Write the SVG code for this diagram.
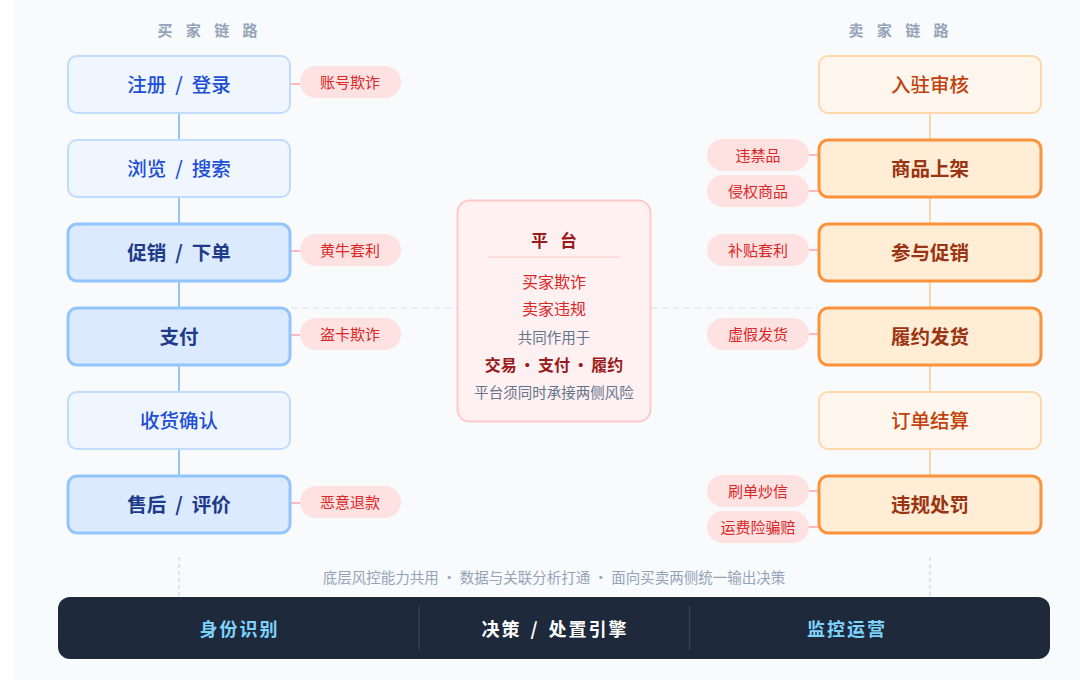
<svg xmlns="http://www.w3.org/2000/svg" width="1080" height="689" viewBox="0 0 1080 689">
<style>
text{font-family:"Noto Sans CJK SC","Noto Sans",sans-serif;text-anchor:middle;dominant-baseline:central}
.hdr{font-size:15px;font-weight:700;fill:#94a3b8;letter-spacing:5px}
.bl{fill:#eff6ff;stroke:#bfdbfe;stroke-width:2}
.bb{fill:#dbeafe;stroke:#93c5fd;stroke-width:3}
.blt{font-size:19.5px;fill:#1d4ed8;font-weight:500;word-spacing:4.5px}
.bbt{font-size:19.5px;fill:#1e3a8a;font-weight:700;word-spacing:4.5px}
.ol{fill:#fff7ed;stroke:#fed7aa;stroke-width:2}
.ob{fill:#ffedd5;stroke:#fb923c;stroke-width:3}
.olt{font-size:19.5px;fill:#c2410c;font-weight:500}
.obt{font-size:19.5px;fill:#9a3412;font-weight:700}
.pill{fill:#fee2e2}
.pt{font-size:15px;fill:#dc2626}
.vb{stroke:#93c5fd;stroke-width:2;fill:none}
.vo{stroke:#fed7aa;stroke-width:2;fill:none}
.pc{stroke:#fca5a5;stroke-width:1.5;fill:none}
.dh{stroke:#e2e8f0;stroke-width:1.5;stroke-dasharray:6 5;fill:none}
.dv{stroke:#cbd5e1;stroke-width:1.2;stroke-dasharray:4 3;fill:none}
.bt{font-size:18px;font-weight:700;letter-spacing:2px;word-spacing:3px}
</style>
<rect x="0" y="0" width="1080" height="689" fill="#ffffff"/>
<rect x="14" y="0" width="1066" height="680" fill="#f8fafc"/>
<text class="hdr" x="210" y="29">买 家 链 路</text>
<text class="hdr" x="901" y="29">卖 家 链 路</text>
<g id="connectors">
<line class="vb" x1="179" y1="113" x2="179" y2="140"/>
<line class="vb" x1="179" y1="197" x2="179" y2="224"/>
<line class="vb" x1="179" y1="281" x2="179" y2="308"/>
<line class="vb" x1="179" y1="365" x2="179" y2="392"/>
<line class="vb" x1="179" y1="449" x2="179" y2="476"/>
<line class="vo" x1="930" y1="113" x2="930" y2="140"/>
<line class="vo" x1="930" y1="197" x2="930" y2="224"/>
<line class="vo" x1="930" y1="281" x2="930" y2="308"/>
<line class="vo" x1="930" y1="365" x2="930" y2="392"/>
<line class="vo" x1="930" y1="449" x2="930" y2="476"/>
<line class="pc" x1="290" y1="84" x2="300" y2="84"/>
<line class="pc" x1="290" y1="251" x2="300" y2="251"/>
<line class="pc" x1="290" y1="335" x2="300" y2="335"/>
<line class="pc" x1="290" y1="503" x2="300" y2="503"/>
<line class="pc" x1="809" y1="155" x2="819" y2="155"/>
<line class="pc" x1="809" y1="191" x2="819" y2="191"/>
<line class="pc" x1="809" y1="250" x2="819" y2="250"/>
<line class="pc" x1="809" y1="334" x2="819" y2="334"/>
<line class="pc" x1="809" y1="491" x2="819" y2="491"/>
<line class="pc" x1="809" y1="527" x2="819" y2="527"/>
<line class="dh" x1="291" y1="308" x2="457" y2="308"/>
<line class="dh" x1="651" y1="308" x2="818" y2="308"/>
<line class="dv" x1="179" y1="557" x2="179" y2="597"/>
<line class="dv" x1="930" y1="557" x2="930" y2="597"/>
</g>
<g id="b1"><rect class="bl" x="68" y="56" width="222" height="57" rx="9"/><text class="blt" x="179" y="83">注册 / 登录</text></g>
<g id="b2"><rect class="bl" x="68" y="140" width="222" height="57" rx="9"/><text class="blt" x="179" y="167">浏览 / 搜索</text></g>
<g id="b3"><rect class="bb" x="68" y="224" width="222" height="57" rx="9"/><text class="bbt" x="179" y="251">促销 / 下单</text></g>
<g id="b4"><rect class="bb" x="68" y="308" width="222" height="57" rx="9"/><text class="bbt" x="179" y="335">支付</text></g>
<g id="b5"><rect class="bl" x="68" y="392" width="222" height="57" rx="9"/><text class="blt" x="179" y="419">收货确认</text></g>
<g id="b6"><rect class="bb" x="68" y="476" width="222" height="57" rx="9"/><text class="bbt" x="179" y="503">售后 / 评价</text></g>
<g id="s1"><rect class="ol" x="819" y="56" width="222" height="57" rx="9"/><text class="olt" x="930" y="83">入驻审核</text></g>
<g id="s2"><rect class="ob" x="819" y="140" width="222" height="57" rx="9"/><text class="obt" x="930" y="167">商品上架</text></g>
<g id="s3"><rect class="ob" x="819" y="224" width="222" height="57" rx="9"/><text class="obt" x="930" y="251">参与促销</text></g>
<g id="s4"><rect class="ob" x="819" y="308" width="222" height="57" rx="9"/><text class="obt" x="930" y="335">履约发货</text></g>
<g id="s5"><rect class="ol" x="819" y="392" width="222" height="57" rx="9"/><text class="olt" x="930" y="419">订单结算</text></g>
<g id="s6"><rect class="ob" x="819" y="476" width="222" height="57" rx="9"/><text class="obt" x="930" y="503">违规处罚</text></g>
<g id="r1"><rect class="pill" x="300" y="66" width="101" height="32" rx="16"/><text class="pt" x="350" y="81">账号欺诈</text></g>
<g id="r2"><rect class="pill" x="300" y="234" width="101" height="32" rx="16"/><text class="pt" x="350" y="249">黄牛套利</text></g>
<g id="r3"><rect class="pill" x="300" y="318" width="101" height="32" rx="16"/><text class="pt" x="350" y="333">盗卡欺诈</text></g>
<g id="r4"><rect class="pill" x="300" y="486" width="101" height="32" rx="16"/><text class="pt" x="350" y="501">恶意退款</text></g>
<g id="r5"><rect class="pill" x="707" y="139" width="102" height="32" rx="16"/><text class="pt" x="758" y="154">违禁品</text></g>
<g id="r6"><rect class="pill" x="707" y="175" width="102" height="32" rx="16"/><text class="pt" x="758" y="190">侵权商品</text></g>
<g id="r7"><rect class="pill" x="707" y="234" width="102" height="32" rx="16"/><text class="pt" x="758" y="249">补贴套利</text></g>
<g id="r8"><rect class="pill" x="707" y="318" width="102" height="32" rx="16"/><text class="pt" x="758" y="333">虚假发货</text></g>
<g id="r9"><rect class="pill" x="707" y="475" width="102" height="32" rx="16"/><text class="pt" x="758" y="490">刷单炒信</text></g>
<g id="r10"><rect class="pill" x="707" y="511" width="102" height="32" rx="16"/><text class="pt" x="758" y="526">运费险骗赔</text></g>
<g id="platform">
<rect x="457.5" y="200.5" width="193" height="221" rx="12" fill="#fff1f2" stroke="#fecaca" stroke-width="2"/>
<text x="556" y="239" style="font-size:17px;font-weight:700;fill:#991b1b;letter-spacing:4px">平 台</text>
<line x1="488" y1="257" x2="620" y2="257" stroke="#fecaca" stroke-width="1.2"/>
<text x="554" y="281" style="font-size:16px;fill:#dc2626">买家欺诈</text>
<text x="554" y="308" style="font-size:16px;fill:#dc2626">卖家违规</text>
<text x="554" y="336" style="font-size:14.5px;fill:#64748b">共同作用于</text>
<text x="554" y="364" style="font-size:16px;font-weight:700;fill:#991b1b;word-spacing:-1px">交易 · 支付 · 履约</text>
<text x="554" y="391" style="font-size:14.5px;fill:#64748b">平台须同时承接两侧风险</text>
</g>
<text x="554" y="576" style="font-size:14.5px;fill:#94a3b8">底层风控能力共用 · 数据与关联分析打通 · 面向买卖两侧统一输出决策</text>
<g id="base">
<rect x="58" y="597" width="992" height="62" rx="12" fill="#1e293b"/>
<line x1="419" y1="606" x2="419" y2="650" stroke="#334155" stroke-width="1.5"/>
<line x1="689.5" y1="606" x2="689.5" y2="650" stroke="#334155" stroke-width="1.5"/>
<text class="bt" x="239.5" y="628" fill="#7dd3fc">身份识别</text>
<text class="bt" x="555" y="628" fill="#ffffff">决策 / 处置引擎</text>
<text class="bt" x="847" y="628" fill="#7dd3fc">监控运营</text>
</g>
</svg>
